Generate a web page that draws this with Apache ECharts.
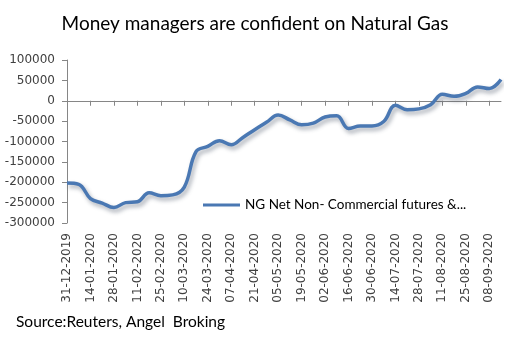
<!DOCTYPE html>
<html>
<head>
<meta charset="utf-8">
<script src="https://cdn.jsdelivr.net/npm/echarts@6/dist/echarts.min.js"></script>
<style>
  html, body { margin: 0; padding: 0; background: #ffffff; }
  #chart { width: 510px; height: 339px; }
</style>
</head>
<body>
<div id="chart"></div>
<script>
// Weekly report dates (Tuesdays)
var weeks = [
  '31-12-2019', '07-01-2020', '14-01-2020', '21-01-2020', '28-01-2020', '04-02-2020',
  '11-02-2020', '18-02-2020', '25-02-2020', '03-03-2020', '10-03-2020', '17-03-2020',
  '24-03-2020', '31-03-2020', '07-04-2020', '14-04-2020', '21-04-2020', '28-04-2020',
  '05-05-2020', '12-05-2020', '19-05-2020', '26-05-2020', '02-06-2020', '09-06-2020',
  '16-06-2020', '23-06-2020', '30-06-2020', '07-07-2020', '14-07-2020', '21-07-2020',
  '28-07-2020', '04-08-2020', '11-08-2020', '18-08-2020', '25-08-2020', '01-09-2020',
  '08-09-2020', '15-09-2020'
];

// Net non-commercial positions (contracts)
var netPositions = [
  -202000, -205000, -240000, -251000, -262000, -250000,
  -248000, -226000, -233000, -231000, -212000, -125000,
  -112000, -98000, -108000, -90000, -71000, -53000,
  -35000, -47000, -59000, -55000, -40000, -37000,
  -68000, -62000, -62000, -51000, -11000, -22000,
  -20000, -10000, 16000, 11000, 18000, 34000,
  30000, 52000
];

var seriesName = 'NG Net Non- Commercial futures &...';
var chartTitle = 'Money managers are confident on Natural Gas';
var sourceNote = 'Source:Reuters, Angel  Broking';

var yTicks = { min: -300000, max: 100000, step: 50000 };

var axisGray = '#868686';
var labelColor = '#404040';

var chart = echarts.init(document.getElementById('chart'), null, { renderer: 'canvas' });

chart.setOption({
  animation: false,
  backgroundColor: '#ffffff',
  title: {
    text: chartTitle,
    left: 'center',
    top: 9,
    textStyle: { fontFamily: 'Lato', fontSize: 19, fontWeight: 'normal', color: '#000000' }
  },
  legend: {
    left: 198,
    top: 193,
    padding: 5,
    icon: 'rect',
    itemWidth: 37,
    itemHeight: 3,
    itemGap: 4,
    textStyle: { fontFamily: 'Lato', fontSize: 13.5, color: '#000000' },
    data: [seriesName]
  },
  grid: { left: 67, right: 9, top: 60, bottom: 116, containLabel: false },
  xAxis: [
    {
      // bottom axis carrying the rotated date labels
      type: 'category',
      data: weeks,
      boundaryGap: false,
      position: 'bottom',
      axisLine: { show: false, onZero: false },
      axisTick: { show: false },
      axisLabel: {
        interval: 1,
        rotate: 90,
        margin: 10,
        fontFamily: 'DejaVu Sans',
        fontSize: 12,
        color: labelColor
      },
      splitLine: { show: false }
    },
    {
      // horizontal axis line drawn through zero
      type: 'category',
      data: weeks,
      boundaryGap: false,
      position: 'bottom',
      axisLine: { show: true, onZero: true, lineStyle: { color: axisGray, width: 1 } },
      axisTick: { show: true, interval: 1, length: 5, inside: false, lineStyle: { color: axisGray } },
      axisLabel: { show: false },
      splitLine: { show: false }
    }
  ],
  yAxis: {
    type: 'value',
    min: yTicks.min,
    max: yTicks.max,
    interval: yTicks.step,
    axisLine: { show: true, onZero: false, lineStyle: { color: axisGray, width: 1 } },
    axisTick: { show: true, length: 5, lineStyle: { color: axisGray } },
    axisLabel: {
      margin: 12,
      fontFamily: 'DejaVu Sans',
      fontSize: 12,
      color: labelColor,
      formatter: function (v) { return String(v); }
    },
    splitLine: { show: false }
  },
  series: [
    {
      name: seriesName,
      type: 'line',
      xAxisIndex: 0,
      data: netPositions,
      smooth: 0.4,
      showSymbol: false,
      symbol: 'none',
      itemStyle: { color: '#4A78B3' },
      lineStyle: {
        color: '#4A78B3',
        width: 3.5,
        shadowColor: 'rgba(60,70,90,0.45)',
        shadowBlur: 4,
        shadowOffsetX: 2,
        shadowOffsetY: 3
      }
    }
  ],
  graphic: [
    {
      type: 'text',
      left: 16,
      top: 314,
      style: {
        text: sourceNote,
        fontFamily: 'Lato',
        fontSize: 15.5,
        fill: '#000000'
      }
    }
  ]
});
</script>
</body>
</html>
